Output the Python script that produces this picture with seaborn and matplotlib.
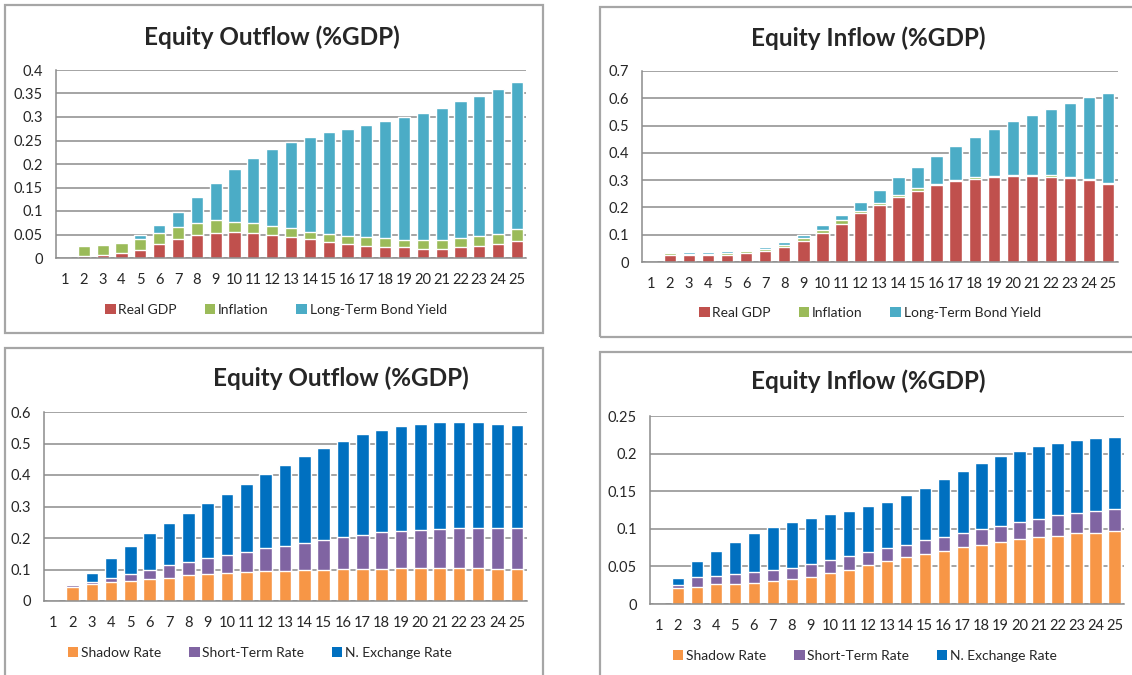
import numpy as np
import pandas as pd
import seaborn as sns
import matplotlib.pyplot as plt
from matplotlib.patches import Rectangle, Patch

periods = [str(i) for i in range(1, 26)]

# set 1: real GDP / inflation / long-term bond yield (segment heights)
out_rgdp = [0, 0.0035, 0.006, 0.011, 0.018, 0.030, 0.040, 0.049, 0.054, 0.056, 0.054, 0.049, 0.044,
            0.040, 0.035, 0.030, 0.025, 0.023, 0.023, 0.020, 0.020, 0.023, 0.025, 0.030, 0.037]
out_infl = [0, 0.0215, 0.0215, 0.021, 0.023, 0.023, 0.025, 0.026, 0.026, 0.021, 0.021, 0.019, 0.020,
            0.016, 0.017, 0.017, 0.019, 0.019, 0.016, 0.019, 0.019, 0.019, 0.022, 0.022, 0.024]
out_ltby = [0, 0.0025, 0.0025, 0.0025, 0.009, 0.018, 0.032, 0.054, 0.080, 0.112, 0.138, 0.164, 0.182,
            0.202, 0.216, 0.228, 0.238, 0.250, 0.261, 0.270, 0.281, 0.291, 0.298, 0.307, 0.313]

in_rgdp = [0, 0.027, 0.027, 0.027, 0.027, 0.032, 0.040, 0.055, 0.077, 0.107, 0.141, 0.179, 0.208,
           0.238, 0.262, 0.281, 0.297, 0.304, 0.311, 0.316, 0.316, 0.311, 0.308, 0.299, 0.287]
in_infl = [0, 0.005, 0.004, 0.004, 0.007, 0.007, 0.008, 0.009, 0.011, 0.012, 0.012, 0.007, 0.010,
           0.006, 0.008, 0.006, 0.003, 0.006, 0.004, 0.004, 0.004, 0.008, 0.003, 0.004, 0.003]
in_ltby = [0, 0.005, 0.005, 0.005, 0.005, 0.004, 0.008, 0.008, 0.011, 0.017, 0.021, 0.033, 0.047,
           0.066, 0.079, 0.103, 0.124, 0.147, 0.172, 0.196, 0.220, 0.242, 0.272, 0.301, 0.330]

# set 2: shadow rate / short-term rate / nominal exchange rate
out_shadow = [0, 0.0455, 0.053, 0.059, 0.063, 0.070, 0.074, 0.081, 0.086, 0.089, 0.092, 0.095, 0.095,
              0.098, 0.098, 0.102, 0.102, 0.102, 0.106, 0.106, 0.106, 0.106, 0.106, 0.102, 0.102]
out_short = [0, 0.0055, 0.006, 0.015, 0.022, 0.029, 0.039, 0.044, 0.049, 0.057, 0.065, 0.072, 0.081,
             0.087, 0.096, 0.101, 0.109, 0.116, 0.116, 0.119, 0.123, 0.127, 0.127, 0.131, 0.131]
out_exch = [0, 0.003, 0.030, 0.061, 0.091, 0.116, 0.134, 0.154, 0.177, 0.195, 0.215, 0.235, 0.255,
            0.275, 0.292, 0.304, 0.318, 0.325, 0.332, 0.336, 0.339, 0.335, 0.335, 0.328, 0.325]

in_shadow = [0, 0.0217, 0.0226, 0.026, 0.026, 0.028, 0.0305, 0.033, 0.036, 0.041, 0.0456, 0.052, 0.0575,
             0.062, 0.067, 0.071, 0.076, 0.079, 0.083, 0.0867, 0.089, 0.0907, 0.094, 0.095, 0.097]
in_short = [0, 0.0033, 0.0134, 0.0116, 0.0134, 0.0145, 0.0145, 0.015, 0.017, 0.018, 0.0184, 0.0175, 0.0165,
            0.017, 0.018, 0.018, 0.019, 0.0206, 0.021, 0.0223, 0.024, 0.0273, 0.027, 0.0285, 0.0287]
in_exch = [0, 0.0095, 0.021, 0.0332, 0.0436, 0.0515, 0.058, 0.061, 0.062, 0.061, 0.060, 0.0605, 0.062,
           0.066, 0.069, 0.077, 0.082, 0.088, 0.093, 0.095, 0.097, 0.0966, 0.097, 0.0975, 0.0963]

names1 = ['Real GDP', 'Inflation', 'Long-Term Bond Yield']
names2 = ['Shadow Rate', 'Short-Term Rate', 'N. Exchange Rate']
colors1 = ['#C0504D', '#9BBB59', '#4BACC6']
colors2 = ['#F79646', '#8064A2', '#0070C0']

sns.set_style('white')
plt.rcParams['font.family'] = ['Lato', 'DejaVu Sans']

W, H = 1132, 675
fig = plt.figure(figsize=(W / 100, H / 100), dpi=100)


def px_rect(x0, y0, x1, y1):
    # pixel box (top-left origin) -> figure fraction [l, b, w, h]
    return [x0 / W, 1 - y1 / H, (x1 - x0) / W, (y1 - y0) / H]


def panel(box, plot_box, title, title_xy, series, names, colors, ymax, step, legend_xy, yfmt):
    fig.patches.append(Rectangle((box[0] / W, 1 - box[3] / H), (box[2] - box[0]) / W,
                                 (box[3] - box[1]) / H, transform=fig.transFigure,
                                 fill=False, edgecolor='#A6A6A6', linewidth=1.6, zorder=0))
    ax = fig.add_axes(px_rect(*plot_box))
    df = pd.DataFrame({'period': periods})
    bottom = np.zeros(len(periods))
    tops = []
    for s in series:
        bottom = bottom + np.array(s)
        tops.append(bottom.copy())
    # draw from the tallest cumulative value down so the segments stack
    for top, c in zip(tops[::-1], colors[::-1]):
        df['v'] = top
        sns.barplot(data=df, x='period', y='v', order=periods, color=c, saturation=1,
                    width=0.65, ax=ax, zorder=2)
    ax.set_xlim(-0.5, len(periods) - 0.5)
    ax.set_ylim(0, ymax)
    ticks = np.arange(0, ymax + step / 2, step)
    ax.set_yticks(ticks)
    ax.set_yticklabels([yfmt(t) for t in ticks])
    ax.grid(axis='y', color='#8C8C8C', linewidth=1.1, zorder=0)
    ax.set_axisbelow(True)
    ax.set_xlabel('')
    ax.set_ylabel('')
    for sp in ['top', 'right']:
        ax.spines[sp].set_visible(False)
    for sp in ['left', 'bottom']:
        ax.spines[sp].set_color('#8C8C8C')
        ax.spines[sp].set_linewidth(1.1)
    ax.tick_params(axis='x', length=0, pad=11, labelsize=10.5)
    ax.tick_params(axis='y', length=0, pad=9, labelsize=10.5)
    fig.text(title_xy[0] / W, 1 - title_xy[1] / H, title, ha='center', va='center',
             fontsize=17.5, fontweight='bold')
    handles = [Patch(facecolor=c, edgecolor='none') for c in colors]
    fig.legend(handles, names, loc='center', bbox_to_anchor=(legend_xy[0] / W, 1 - legend_xy[1] / H),
               ncol=3, frameon=False, fontsize=10, handlelength=0.75, handleheight=0.75,
               handletextpad=0.2, columnspacing=2.0)
    return ax


def fmt(t):
    s = ('%.2f' % t).rstrip('0').rstrip('.')
    return s if s else '0'


panel((5, 5, 543, 333), (55.6, 70, 526.4, 258), 'Equity Outflow (%GDP)', (272, 37),
      [out_rgdp, out_infl, out_ltby], names1, colors1, 0.4, 0.05, (276, 310), fmt)
panel((600, 7, 1145, 337), (641.5, 71, 1117.5, 262), 'Equity Inflow (%GDP)', (868, 38),
      [in_rgdp, in_infl, in_ltby], names1, colors1, 0.7, 0.1, (870, 313), fmt)
panel((5, 348, 543, 690), (43.5, 412, 526.5, 601), 'Equity Outflow (%GDP)', (341, 378),
      [out_shadow, out_short, out_exch], names2, colors2, 0.6, 0.1, (260, 653), fmt)
panel((600, 352, 1145, 690), (649.5, 416, 1124, 604), 'Equity Inflow (%GDP)', (868, 381),
      [in_shadow, in_short, in_exch], names2, colors2, 0.25, 0.05, (865, 656), fmt)

fig.savefig('out.png', dpi=100)
